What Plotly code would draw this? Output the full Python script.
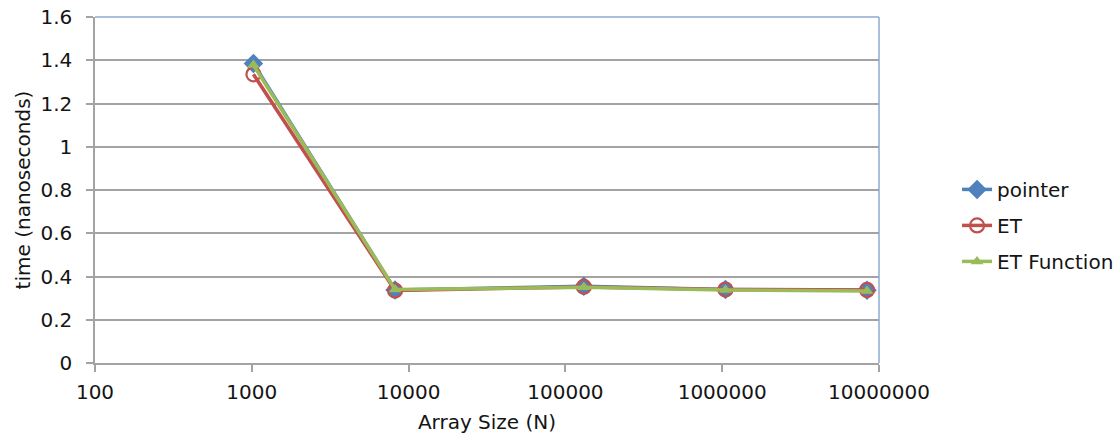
import plotly.graph_objects as go

# Array sizes (N) and measured time per element in nanoseconds
array_sizes = [1024, 8192, 131072, 1048576, 8388608]
pointer_ns = [1.385, 0.338, 0.355, 0.340, 0.336]
et_ns = [1.335, 0.335, 0.352, 0.340, 0.338]
et_function_ns = [1.378, 0.340, 0.350, 0.338, 0.333]

x_tick_vals = [100, 1000, 10000, 100000, 1000000, 10000000]
x_tick_text = ["100", "1000", "10000", "100000", "1000000", "10000000"]
y_tick_vals = [0, 0.2, 0.4, 0.6, 0.8, 1.0, 1.2, 1.4, 1.6]
y_tick_text = ["0", "0.2", "0.4", "0.6", "0.8", "1", "1.2", "1.4", "1.6"]

FONT = "DejaVu Sans"
FS = 20
TEXT = "#141414"
GRID = "#a3a3a3"
EDGE = "#8eaad6"

fig = go.Figure()

fig.add_trace(go.Scatter(
    x=array_sizes, y=pointer_ns, name="pointer", mode="lines+markers",
    legendgroup="a",
    line=dict(color="#4f81bd", width=3.5),
    marker=dict(symbol="diamond", size=15, color="#4f81bd"),
))
fig.add_trace(go.Scatter(
    x=array_sizes, y=et_ns, name="ET", mode="lines+markers",
    legendgroup="b",
    line=dict(color="#c0504d", width=3.5),
    marker=dict(symbol="circle-open", size=14, color="#c0504d",
                line=dict(width=2.2, color="#c0504d")),
))
fig.add_trace(go.Scatter(
    x=array_sizes, y=et_function_ns, name="ET Function", mode="lines+markers",
    legendgroup="c",
    line=dict(color="#9bbb59", width=3.5),
    marker=dict(symbol="triangle-up", size=11, color="#9bbb59"),
))

# blue frame on the top and right of the plotting area
fig.add_shape(type="line", xref="paper", yref="paper", x0=0, x1=1, y0=1, y1=1,
              line=dict(color=EDGE, width=1.5))
fig.add_shape(type="line", xref="paper", yref="paper", x0=1, x1=1, y0=0, y1=1,
              line=dict(color=EDGE, width=1.5))

fig.update_layout(
    width=1120, height=436,
    margin=dict(l=95, r=241, t=17, b=73),
    paper_bgcolor="white", plot_bgcolor="white",
    font=dict(family=FONT, size=FS, color=TEXT),
    showlegend=True,
    legend=dict(
        xref="container", yref="container",
        x=0.8545, y=0.483, xanchor="left", yanchor="middle",
        font=dict(family=FONT, size=FS, color=TEXT),
        traceorder="grouped", tracegroupgap=7,
        bgcolor="rgba(0,0,0,0)", itemwidth=30,
    ),
    xaxis=dict(
        type="log", range=[2, 7], automargin=False,
        tickvals=x_tick_vals, ticktext=x_tick_text,
        showgrid=False, zeroline=False,
        showline=True, linecolor=GRID, linewidth=1.5,
        ticks="outside", ticklen=7, tickcolor=GRID, tickwidth=1.5,
        ticklabelstandoff=3,
        tickfont=dict(family=FONT, size=FS, color=TEXT),
        title=dict(text="Array Size (N)", font=dict(family=FONT, size=FS, color=TEXT),
                   standoff=12),
    ),
    yaxis=dict(
        range=[0, 1.6], automargin=False,
        tickvals=y_tick_vals, ticktext=y_tick_text,
        showgrid=True, gridcolor=GRID, gridwidth=1.5,
        zeroline=False,
        showline=True, linecolor=GRID, linewidth=1.5,
        ticks="outside", ticklen=7, tickcolor=GRID, tickwidth=1.5,
        ticklabelstandoff=10,
        tickfont=dict(family=FONT, size=FS, color=TEXT),
        title=dict(text="time (nanoseconds)", font=dict(family=FONT, size=FS, color=TEXT),
                   standoff=4),
    ),
)

fig.write_html("out.html")
